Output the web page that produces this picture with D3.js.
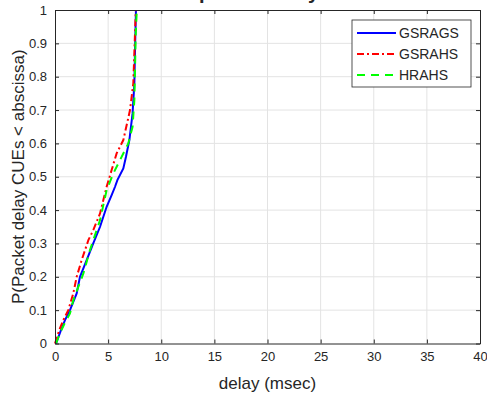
<!DOCTYPE html>
<html>
<head>
<meta charset="utf-8">
<script src="https://cdn.jsdelivr.net/npm/d3@7"></script>
<style>
  body { margin: 0; background: #fff; }
  text { font-family: "Liberation Sans", Arial, sans-serif; fill: #262626; }
</style>
</head>
<body>
<div id="content"></div>
<script>
const width = 487;
const height = 398;

// CDF curves: [delay msec, probability]
const gsrags = [[0.1,0],[0.5,0.035],[0.94,0.07],[1.41,0.1],[2.04,0.15],[2.35,0.2],[2.98,0.25],[3.6,0.3],
  [4.24,0.35],[4.86,0.41],[5.33,0.445],[5.65,0.47],[5.87,0.49],[6.43,0.525],[6.68,0.56],[7.0,0.61],
  [7.3,0.69],[7.47,0.78],[7.53,0.88],[7.62,1.0]];
const gsrahs = [[0,0],[0.4,0.04],[0.78,0.07],[1.25,0.1],[1.72,0.15],[2.04,0.2],[2.51,0.25],[3.14,0.31],
  [3.6,0.34],[4.24,0.39],[4.86,0.47],[5.33,0.52],[5.8,0.57],[6.43,0.61],[7.06,0.7],[7.37,0.78],
  [7.53,0.93],[7.6,1.0]];
const hrahs = [[0.1,0],[0.45,0.03],[0.9,0.06],[1.41,0.09],[1.72,0.13],[2.67,0.21],[3.29,0.28],[4.24,0.37],
  [4.86,0.46],[5.49,0.51],[6.12,0.55],[6.9,0.6],[7.3,0.65],[7.47,0.73],[7.6,0.93],[7.7,1.0]];

const series = [
  {name: "GSRAGS", data: gsrags, color: "#0000ff", dash: null},
  {name: "GSRAHS", data: gsrahs, color: "#ff0000", dash: "7,3,2,3"},
  {name: "HRAHS", data: hrahs, color: "#00ff00", dash: "8,6"}
];

const xTicks = d3.range(0, 41, 5);
const yTicks = d3.range(0, 11).map(d => d / 10);

const svg = d3.select("#content").append("svg")
    .attr("width", width)
    .attr("height", height);

const margin = {top: 10, right: 7, bottom: 54.5, left: 55};
const x = d3.scaleLinear().domain([0, 40]).range([margin.left, width - margin.right]);
const y = d3.scaleLinear().domain([0, 1]).range([height - margin.bottom, margin.top]);

// grid
svg.append("g").selectAll("line").data(xTicks.slice(1, -1)).join("line")
    .attr("x1", d => x(d)).attr("x2", d => x(d))
    .attr("y1", y(0)).attr("y2", y(1))
    .attr("stroke", "#e3e3e3").attr("stroke-width", 1);
svg.append("g").selectAll("line").data(yTicks.slice(1, -1)).join("line")
    .attr("x1", x(0)).attr("x2", x(40))
    .attr("y1", d => y(d)).attr("y2", d => y(d))
    .attr("stroke", "#e3e3e3").attr("stroke-width", 1);

// curves
const line = d3.line().x(d => x(d[0])).y(d => y(d[1]));
series.forEach(s => {
  svg.append("path")
      .datum(s.data)
      .attr("d", line)
      .attr("fill", "none")
      .attr("stroke", s.color)
      .attr("stroke-width", 2)
      .attr("stroke-dasharray", s.dash);
});

// axes (box with inward ticks)
function styleAxis(g) {
  g.select(".domain").attr("stroke", "#262626");
  g.selectAll(".tick line").attr("stroke", "#262626");
  g.selectAll(".tick text").style("font-size", "13px").attr("fill", "#262626");
}
svg.append("g")
    .attr("transform", `translate(0,${y(0)})`)
    .call(d3.axisBottom(x).tickValues(xTicks).tickSizeInner(-4).tickSizeOuter(0).tickPadding(8))
    .call(styleAxis);
svg.append("g")
    .attr("transform", `translate(0,${y(1)})`)
    .call(d3.axisTop(x).tickValues(xTicks).tickSizeInner(-4).tickSizeOuter(0).tickFormat(""))
    .call(styleAxis);
svg.append("g")
    .attr("transform", `translate(${x(0)},0)`)
    .call(d3.axisLeft(y).tickValues(yTicks).tickSizeInner(-4).tickSizeOuter(0).tickPadding(8).tickFormat(d3.format("~g")))
    .call(styleAxis);
svg.append("g")
    .attr("transform", `translate(${x(40)},0)`)
    .call(d3.axisRight(y).tickValues(yTicks).tickSizeInner(-4).tickSizeOuter(0).tickFormat(""))
    .call(styleAxis);

// labels
svg.append("text").text("delay (msec)")
    .attr("x", (x(0) + x(40)) / 2).attr("y", 389)
    .attr("text-anchor", "middle").style("font-size", "17px");
svg.append("text").text("P(Packet delay CUEs < abscissa)")
    .attr("transform", `translate(24, ${(y(0) + y(1)) / 2}) rotate(-90)`)
    .attr("text-anchor", "middle").style("font-size", "17px");

// title, mostly cut off by the top of the page (only descenders show)
svg.append("text").text("packet delay")
    .attr("x", 199).attr("y", -1.5)
    .style("font-size", "20px").style("font-weight", "bold").attr("fill", "#000");

// legend
const legend = svg.append("g").attr("transform", "translate(352,20)");
legend.append("rect")
    .attr("width", 119).attr("height", 67)
    .attr("fill", "#fff").attr("stroke", "#262626").attr("stroke-width", 0.8);
series.forEach((s, i) => {
  const ly = 13 + i * 21;
  legend.append("line")
      .attr("x1", 5).attr("x2", 44).attr("y1", ly).attr("y2", ly)
      .attr("stroke", s.color).attr("stroke-width", 2)
      .attr("stroke-dasharray", s.dash);
  legend.append("text").text(s.name)
      .attr("x", 47).attr("y", ly + 5)
      .style("font-size", "14px").attr("fill", "#000");
});
</script>
</body>
</html>
